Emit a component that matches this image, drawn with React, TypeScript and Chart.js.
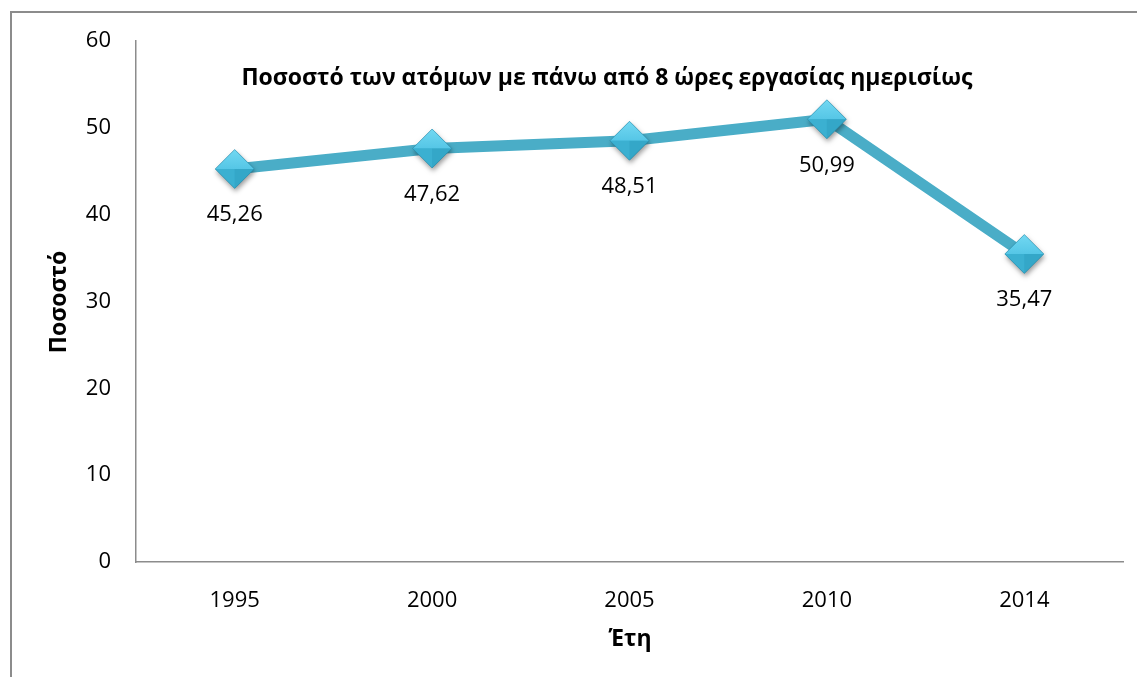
import React, { useEffect, useRef } from "react";
import { Chart, registerables } from "chart.js";

Chart.register(...registerables);

const categories = ["1995", "2000", "2005", "2010", "2014"];
const values = [45.26, 47.62, 48.51, 50.99, 35.47];
const valueLabels = ["45,26", "47,62", "48,51", "50,99", "35,47"];
const chartTitle = "Ποσοστό των ατόμων με πάνω από 8 ώρες εργασίας ημερισίως";
const yTitle = "Ποσοστό";
const xTitle = "Έτη";

const FONT = "'Open Sans', 'Noto Sans', sans-serif";

function drawMarker(ctx: CanvasRenderingContext2D, cx: number, cy: number, r: number) {
  ctx.save();
  ctx.shadowColor = "rgba(0,0,0,0.4)";
  ctx.shadowBlur = 5;
  ctx.shadowOffsetX = 1;
  ctx.shadowOffsetY = 3;
  ctx.beginPath();
  ctx.moveTo(cx, cy - r);
  ctx.lineTo(cx + r, cy);
  ctx.lineTo(cx, cy + r);
  ctx.lineTo(cx - r, cy);
  ctx.closePath();
  ctx.fillStyle = "#3aaed0";
  ctx.fill();
  ctx.restore();
  const tri = (pts: number[][], fill: string | CanvasGradient) => {
    ctx.beginPath();
    ctx.moveTo(pts[0][0], pts[0][1]);
    for (let i = 1; i < pts.length; i++) ctx.lineTo(pts[i][0], pts[i][1]);
    ctx.closePath();
    ctx.fillStyle = fill;
    ctx.fill();
  };
  const top = ctx.createLinearGradient(cx, cy - r, cx, cy);
  top.addColorStop(0, "#72d8f2");
  top.addColorStop(1, "#55c6e6");
  tri([[cx, cy - r], [cx + r, cy], [cx, cy], [cx - r, cy]], top);
  tri([[cx - r, cy], [cx, cy], [cx, cy + r]], "#3bb0d1");
  tri([[cx, cy], [cx + r, cy], [cx, cy + r]], "#34a7c8");
  ctx.strokeStyle = "rgba(30,120,150,0.55)";
  ctx.lineWidth = 0.8;
  ctx.beginPath();
  ctx.moveTo(cx, cy - r);
  ctx.lineTo(cx + r, cy);
  ctx.lineTo(cx, cy + r);
  ctx.lineTo(cx - r, cy);
  ctx.closePath();
  ctx.stroke();
}

const overlayPlugin = {
  id: "overlayPlugin",
  afterDatasetsDraw(chart: any) {
    const ctx = chart.ctx;
    const meta = chart.getDatasetMeta(0);
    meta.data.forEach((pt: any) => drawMarker(ctx, pt.x, pt.y, 19.5));
    ctx.save();
    ctx.fillStyle = "#000";
    ctx.textAlign = "center";
    ctx.textBaseline = "middle";
    ctx.font = `22px ${FONT}`;
    meta.data.forEach((pt: any, i: number) => {
      ctx.fillText(valueLabels[i], pt.x, pt.y + 46);
    });
    ctx.font = `bold 23px ${FONT}`;
    ctx.fillText(chartTitle, 607, 78);
    ctx.fillText(xTitle, 630, 639);
    ctx.translate(59, 302);
    ctx.rotate(-Math.PI / 2);
    ctx.fillText(yTitle, 0, 0);
    ctx.restore();
  },
};

export default function App() {
  const ref = useRef<HTMLCanvasElement>(null);
  useEffect(() => {
    if (!ref.current) return;
    const chart = new Chart(ref.current, {
      type: "line",
      data: {
        labels: categories,
        datasets: [
          {
            data: values,
            borderColor: "#4aadc7",
            borderWidth: 11,
            pointRadius: 0,
            pointHoverRadius: 0,
            pointBorderWidth: 0,
            tension: 0,
          },
        ],
      },
      options: {
        animation: false,
        responsive: false,
        layout: { padding: { left: 0, top: 41, right: 14, bottom: 0 } },
        plugins: { legend: { display: false }, tooltip: { enabled: false } },
        scales: {
          x: {
            offset: true,
            grid: { display: false, drawTicks: false },
            border: { display: true, color: "#8c8c8c", width: 1.5 },
            ticks: { color: "#000", font: { family: FONT, size: 22 }, padding: 26 },
            afterFit: (s: any) => {
              s.height = 115;
              s.paddingLeft = 0;
              s.paddingRight = 0;
            },
          },
          y: {
            min: 0,
            max: 60,
            grid: { display: false, drawTicks: false },
            border: { display: true, color: "#8c8c8c", width: 1.5 },
            ticks: { stepSize: 10, color: "#000", font: { family: FONT, size: 22 }, padding: 25 },
            afterFit: (s: any) => {
              s.width = 136;
              s.paddingTop = 0;
              s.paddingBottom = 0;
            },
          },
        },
      },
      plugins: [overlayPlugin],
    });
    return () => chart.destroy();
  }, []);
  return (
    <div style={{ position: "absolute", left: 0, top: 0, width: 1137, height: 677, background: "#fff", overflow: "hidden" }}>
      <div style={{ position: "absolute", left: 10, top: 11, width: 1127, height: 666, boxSizing: "border-box", borderLeft: "2px solid #8c8c8c", borderTop: "2px solid #8c8c8c" }} />
      <canvas ref={ref} width={1137} height={677} style={{ position: "absolute", left: 0, top: 0, width: 1137, height: 677 }} />
    </div>
  );
}
